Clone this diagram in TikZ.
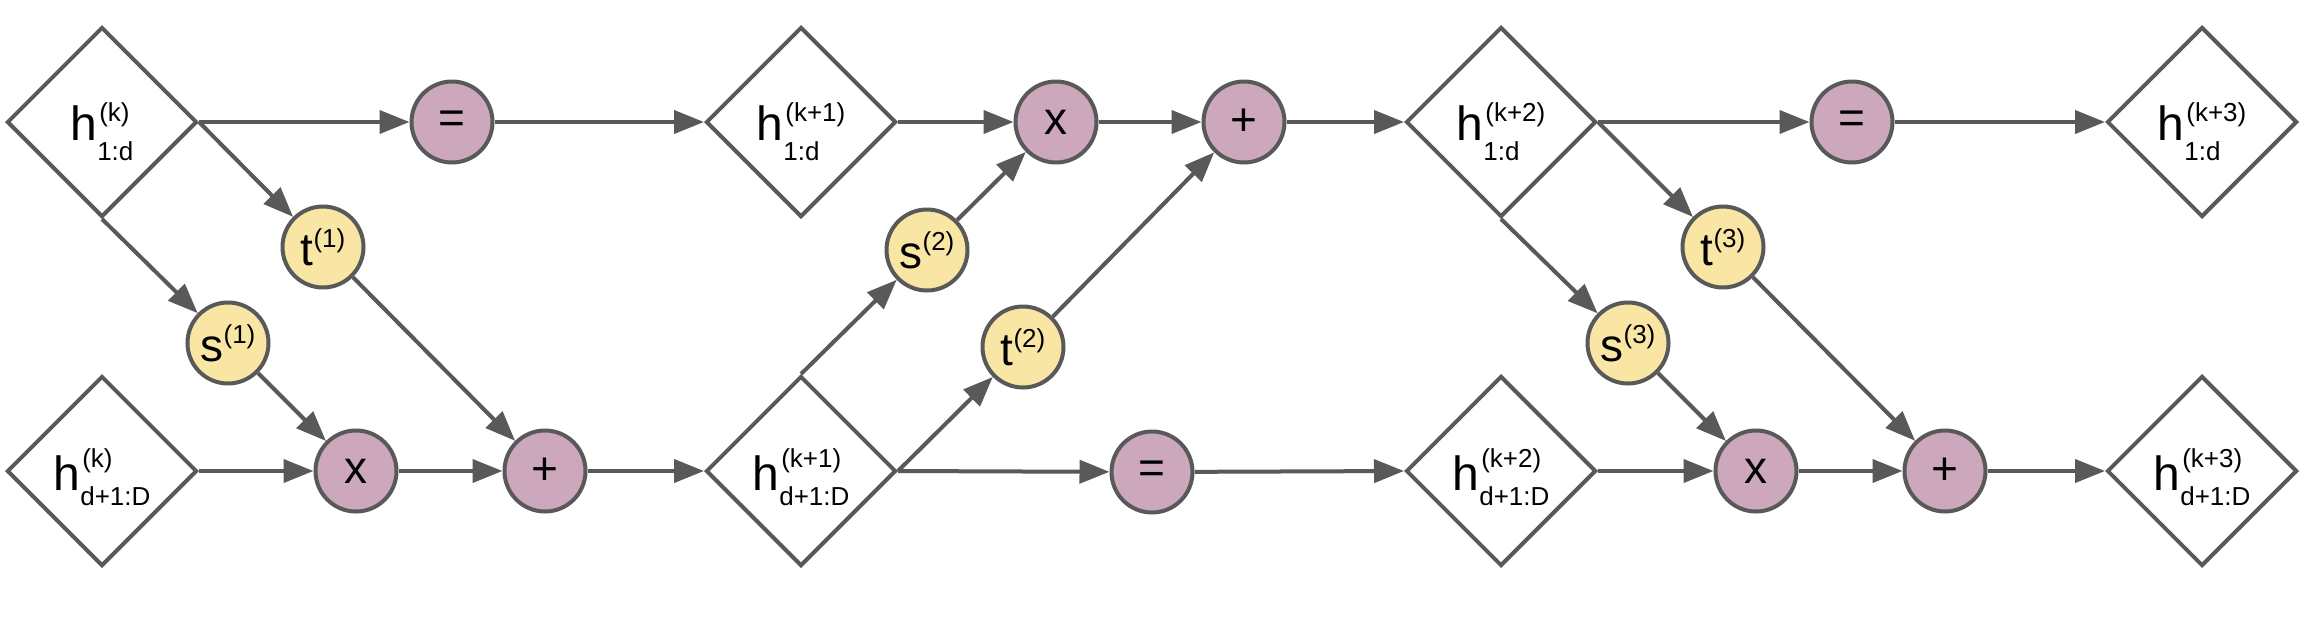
\documentclass[tikz,border=0pt]{standalone}
\usepackage{fontspec}
\setmainfont{Liberation Sans}
\usetikzlibrary{shapes.geometric,arrows.meta}
\definecolor{ln}{HTML}{595959}
\definecolor{pur}{HTML}{CDA8BD}
\definecolor{yel}{HTML}{F9E6A5}
\newcommand{\scrfont}{\fontsize{13}{13}\selectfont}
% #1 sup, #2 sub, #3 raise of sup, #4 lowering of sub
\newcommand{\hlab}[4]{h{\scrfont\setbox0\hbox{\kern1pt #1}\setbox2\hbox{#2}%
 \ifdim\wd0>\wd2 \dimen0=\wd0 \else \dimen0=\wd2 \fi
 \rlap{\raise#3\box0}\rlap{\lower#4\box2}\kern\dimen0}}
\newcommand{\vsup}[2]{#1\raisebox{9.2pt}{\fontsize{13}{13}\selectfont #2}}
\begin{document}
\begin{tikzpicture}[x=0.5pt,y=-0.5pt,
  dia/.style={diamond, draw=ln, line width=2pt, minimum width=95pt, minimum height=95pt, inner sep=0pt, aspect=1},
  opn/.style={circle, draw=ln, fill=pur, line width=2pt, minimum size=40.5pt, inner sep=0pt, font=\fontsize{23}{23}\selectfont},
  fnc/.style={circle, draw=ln, fill=yel, line width=2pt, minimum size=40.5pt, inner sep=0pt, font=\fontsize{23}{23}\selectfont},
  lbl/.style={font=\fontsize{24}{24}\selectfont, inner sep=0pt, anchor=base},
  arr/.style={draw=ln, line width=2pt, -{Triangle[length=15pt,width=11.5pt]}}]
\useasboundingbox (0,0) rectangle (2304,628);
% diamonds
\node[dia] (D1) at (102,122) {};
\node[dia] (D1b) at (102,471) {};
\node[dia] (D2) at (801,122) {};
\node[dia] (D2b) at (801,471) {};
\node[dia] (D3) at (1501,122) {};
\node[dia] (D3b) at (1501,471) {};
\node[dia] (D4) at (2202,122) {};
\node[dia] (D4b) at (2202,471) {};
% diamond labels
\node[lbl] (L1) at (102,140) {\hlab{(k)}{1:d}{9.2pt}{10pt}};
\node[lbl] (L1b) at (102,490) {\hlab{(k)}{d+1:D}{11.5pt}{7.5pt}};
\node[lbl] (L2) at (801,140) {\hlab{(k+1)}{1:d}{9.2pt}{10pt}};
\node[lbl] (L2b) at (801,490) {\hlab{(k+1)}{d+1:D}{11.5pt}{7.5pt}};
\node[lbl] (L3) at (1501,140) {\hlab{(k+2)}{1:d}{9.2pt}{10pt}};
\node[lbl] (L3b) at (1501,490) {\hlab{(k+2)}{d+1:D}{11.5pt}{7.5pt}};
\node[lbl] (L4) at (2202,140) {\hlab{(k+3)}{1:d}{9.2pt}{10pt}};
\node[lbl] (L4b) at (2202,490) {\hlab{(k+3)}{d+1:D}{11.5pt}{7.5pt}};
% block 1
\node[opn] (E1) at (452,122) {=};
\node[fnc] (T1) at (323,247) {\vsup{t}{(1)}};
\node[fnc] (S1) at (228,343) {\vsup{s}{(1)}};
\node[opn] (X1) at (356,471) {x};
\node[opn] (P1) at (545,471) {+};
% block 2
\node[opn] (X2) at (1056,122) {x};
\node[opn] (P2) at (1244,122) {+};
\node[fnc] (S2) at (927,250) {\vsup{s}{(2)}};
\node[fnc] (T2) at (1023,347) {\vsup{t}{(2)}};
\node[opn] (E2) at (1152,472) {=};
% block 3
\node[opn] (E3) at (1852,122) {=};
\node[fnc] (T3) at (1723,247) {\vsup{t}{(3)}};
\node[fnc] (S3) at (1628,343) {\vsup{s}{(3)}};
\node[opn] (X3) at (1756,471) {x};
\node[opn] (P3) at (1945,471) {+};
% connectors block 1
\draw[arr] (D1.east) -- (E1);
\draw[arr] (E1) -- (D2.west);
\draw[arr] (D1.east) -- (T1);
\draw[arr] (D1.south) -- (S1);
\draw[arr] (S1) -- (X1);
\draw[arr] (T1) -- (P1);
\draw[arr] (D1b.east) -- (X1);
\draw[arr] (X1) -- (P1);
\draw[arr] (P1) -- (D2b.west);
% connectors block 2
\draw[arr] (D2.east) -- (X2);
\draw[arr] (X2) -- (P2);
\draw[arr] (P2) -- (D3.west);
\draw[arr] (D2b.north) -- (S2);
\draw[arr] (S2) -- (X2);
\draw[arr] (D2b.east) -- (T2);
\draw[arr] (T2) -- (P2);
\draw[arr] (D2b.east) -- (E2);
\draw[arr] (E2) -- (D3b.west);
% connectors block 3
\draw[arr] (D3.east) -- (E3);
\draw[arr] (E3) -- (D4.west);
\draw[arr] (D3.east) -- (T3);
\draw[arr] (D3.south) -- (S3);
\draw[arr] (S3) -- (X3);
\draw[arr] (T3) -- (P3);
\draw[arr] (D3b.east) -- (X3);
\draw[arr] (X3) -- (P3);
\draw[arr] (P3) -- (D4b.west);
\end{tikzpicture}
\end{document}
